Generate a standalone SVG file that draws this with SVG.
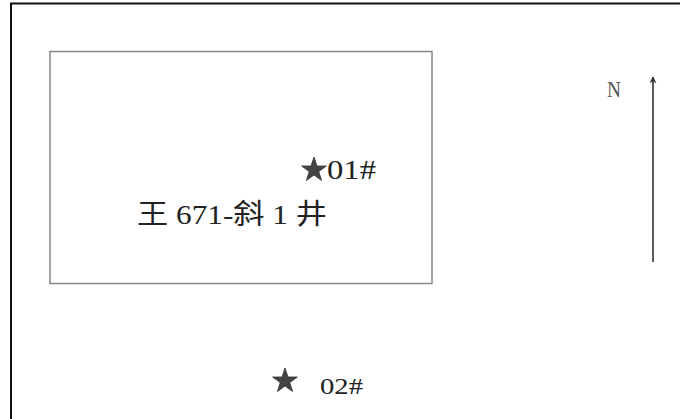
<svg xmlns="http://www.w3.org/2000/svg" width="680" height="419" viewBox="0 0 680 419">
<style>
.t{font-family:"Liberation Serif","Noto Sans CJK SC",serif;fill:#222}
.star{fill:#444;stroke:#333;stroke-width:0.8}
</style>
<defs>
<marker id="ah" viewBox="0 0 10 10" refX="9" refY="5" markerWidth="7" markerHeight="7" orient="auto" markerUnits="userSpaceOnUse">
<path d="M0,0 L10,5 L0,10 L3,5 Z" fill="#333"/>
</marker>
<polygon id="starShape" points="0,-13 3,-4 12.4,-4 4.8,1.6 7.6,10.5 0,5 -7.6,10.5 -4.8,1.6 -12.4,-4 -3,-4"/>
</defs>
<rect width="680" height="419" fill="#fff"/>
<g id="frame">
<path d="M11,419 V3.5 H680" fill="none" stroke="#111" stroke-width="2"/>
</g>
<g id="well-area">
<rect x="50" y="51.5" width="382" height="232" fill="none" stroke="#888" stroke-width="1.5"/>
<text class="t" x="137" y="224" font-size="28" textLength="190" lengthAdjust="spacingAndGlyphs">王 671-斜 1 井</text>
</g>
<g id="point-01">
<use href="#starShape" class="star" x="314" y="170"/>
<text class="t" x="327" y="179" font-size="27" textLength="49" lengthAdjust="spacingAndGlyphs">01#</text>
</g>
<g id="point-02">
<use href="#starShape" class="star" x="285" y="381"/>
<text class="t" x="320" y="394" font-size="24" textLength="43" lengthAdjust="spacingAndGlyphs">02#</text>
</g>
<g id="north">
<text x="607" y="97" font-family="Liberation Serif,serif" font-size="23" fill="#555" textLength="14" lengthAdjust="spacingAndGlyphs">N</text>
</g>
<g id="connectors">
<line x1="653" y1="262" x2="653" y2="77" stroke="#333" stroke-width="1.6" marker-end="url(#ah)"/>
</g>
</svg>
